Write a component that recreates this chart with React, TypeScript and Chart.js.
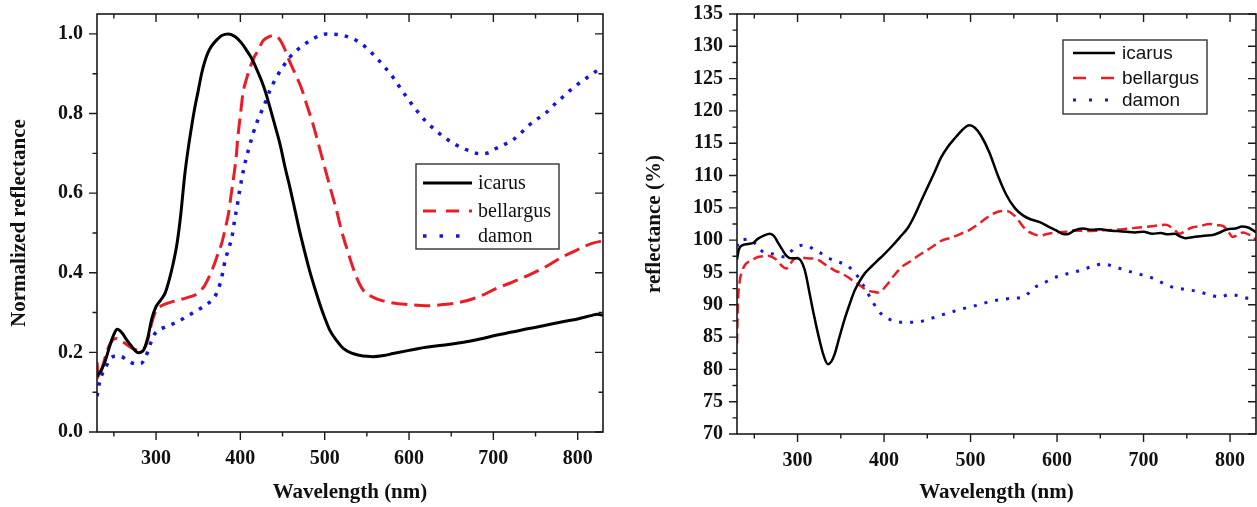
import React, { useEffect, useRef } from "react";
import { Chart, registerables } from "chart.js";

Chart.register(...registerables);

// ---------------- Data: left panel (normalized reflectance) ----------------
const leftIcarusX = [230, 235, 240, 245, 250, 254, 260, 265, 270, 275, 279, 285, 290, 295, 300, 305, 311, 316, 320, 325, 329, 334, 338, 342, 346, 350, 354, 358, 362, 366, 372, 378, 386, 394, 401, 407, 413, 419, 425, 430, 435, 441, 447, 453, 459, 465, 470, 476, 482, 488, 494, 500, 506, 514, 522, 532, 541, 550, 557, 570, 581, 600, 620, 640, 663, 683, 703, 722, 742, 762, 782, 800, 817, 823, 830];
const leftIcarusY = [0.14, 0.155, 0.18, 0.215, 0.245, 0.258, 0.248, 0.232, 0.218, 0.205, 0.199, 0.205, 0.235, 0.285, 0.315, 0.33, 0.35, 0.385, 0.42, 0.475, 0.54, 0.645, 0.71, 0.765, 0.815, 0.857, 0.9, 0.932, 0.955, 0.97, 0.985, 0.996, 1.0, 0.993, 0.978, 0.96, 0.94, 0.913, 0.883, 0.853, 0.816, 0.77, 0.723, 0.665, 0.612, 0.555, 0.507, 0.455, 0.406, 0.363, 0.323, 0.287, 0.256, 0.23, 0.21, 0.198, 0.193, 0.19, 0.189, 0.192, 0.197, 0.205, 0.213, 0.218, 0.225, 0.233, 0.243, 0.251, 0.26, 0.268, 0.277, 0.284, 0.293, 0.296, 0.293];

const leftBellargusX = [230, 232, 236, 240, 244, 248, 253, 258, 265, 272, 280, 286, 290, 295, 300, 307, 316, 326, 336, 346, 352, 358, 363, 368, 373, 378, 382, 386, 389, 392, 395, 397, 400, 403, 407, 411, 416, 421, 427, 434, 441, 447, 452, 458, 465, 472, 479, 486, 493, 500, 507, 514, 520, 527, 534, 541, 548, 557, 568, 581, 600, 620, 640, 663, 683, 703, 722, 742, 762, 782, 800, 817, 830];
const leftBellargusY = [0.175, 0.135, 0.16, 0.19, 0.215, 0.23, 0.235, 0.23, 0.22, 0.21, 0.205, 0.21, 0.23, 0.275, 0.305, 0.318, 0.325, 0.331, 0.337, 0.344, 0.353, 0.369, 0.39, 0.415, 0.445, 0.475, 0.51, 0.55, 0.595, 0.64, 0.69, 0.74, 0.795, 0.85, 0.885, 0.912, 0.94, 0.958, 0.983, 0.993, 0.996, 0.985, 0.965, 0.933, 0.9, 0.866, 0.82, 0.774, 0.72, 0.665, 0.61, 0.557, 0.505, 0.456, 0.41, 0.373, 0.35, 0.339, 0.33, 0.324, 0.32, 0.317, 0.32, 0.327, 0.34, 0.36, 0.376, 0.394, 0.415, 0.44, 0.458, 0.474, 0.48];

const leftDamonX = [230, 233, 237, 242, 246, 252, 258, 264, 270, 276, 282, 288, 293, 298, 303, 310, 318, 326, 336, 346, 356, 366, 371, 376, 379, 382, 386, 390, 393, 396, 399, 402, 406, 410, 415, 420, 425, 430, 435, 442, 450, 458, 466, 474, 484, 493, 502, 512, 522, 531, 541, 551, 561, 571, 581, 590, 600, 610, 620, 632, 644, 655, 665, 675, 685, 695, 703, 713, 722, 732, 742, 752, 762, 772, 782, 791, 801, 811, 821, 830];
const leftDamonY = [0.09, 0.125, 0.15, 0.17, 0.185, 0.19, 0.19, 0.183, 0.175, 0.171, 0.172, 0.19, 0.22, 0.245, 0.256, 0.263, 0.27, 0.277, 0.29, 0.302, 0.315, 0.331, 0.345, 0.373, 0.4, 0.431, 0.46, 0.49, 0.53, 0.565, 0.605, 0.64, 0.68, 0.712, 0.749, 0.78, 0.805, 0.83, 0.858, 0.888, 0.916, 0.94, 0.957, 0.971, 0.985, 0.995, 1.0, 0.999, 0.996, 0.99, 0.979, 0.962, 0.941, 0.917, 0.891, 0.863, 0.833, 0.805, 0.78, 0.757, 0.737, 0.722, 0.712, 0.703, 0.699, 0.702, 0.712, 0.722, 0.732, 0.75, 0.77, 0.786, 0.801, 0.822, 0.841, 0.858, 0.875, 0.89, 0.905, 0.915];

// ---------------- Data: right panel (reflectance %) ----------------
const rightIcarusX = [230, 232, 236, 243, 249, 254, 261, 268, 273, 277, 282, 287, 292, 300, 304, 308, 311, 314, 318, 322, 326, 330, 335, 339, 343, 348, 354, 360, 366, 372, 378, 386, 393, 400, 408, 418, 428, 436, 443, 451, 459, 466, 474, 482, 490, 495, 499, 505, 512, 522, 531, 541, 551, 561, 570, 580, 590, 599, 606, 612, 620, 630, 640, 650, 660, 670, 680, 690, 700, 710, 720, 728, 736, 742, 748, 758, 770, 780, 790, 797, 806, 814, 820, 826, 830];
const rightIcarusY = [97.0, 98.5, 99.2, 99.4, 99.6, 100.2, 100.7, 101.0, 100.6, 99.7, 98.6, 97.6, 97.2, 97.2, 96.8, 95.5, 93.8, 91.7, 89.0, 86.5, 84.2, 82.2, 80.8, 81.2, 82.4, 84.8, 87.6, 90.0, 92.2, 93.7, 94.9, 96.0, 96.9, 97.8, 98.9, 100.4, 102.0, 104.0, 106.1, 108.4, 110.7, 112.8, 114.5, 115.8, 117.0, 117.6, 117.8, 117.4, 116.2, 113.5, 110.2, 107.1, 105.0, 103.8, 103.2, 102.8, 102.1, 101.5, 101.0, 100.9, 101.5, 101.8, 101.6, 101.7, 101.5, 101.4, 101.3, 101.2, 101.3, 101.0, 101.1, 100.9, 101.0, 100.6, 100.3, 100.5, 100.7, 100.8, 101.3, 101.7, 101.8, 102.1, 102.0, 101.6, 101.2];

const rightBellargusX = [230, 231, 233, 236, 240, 246, 254, 260, 266, 272, 277, 282, 287, 291, 296, 303, 311, 320, 326, 331, 337, 343, 350, 358, 364, 370, 376, 382, 388, 393, 398, 404, 412, 420, 430, 443, 455, 466, 478, 489, 499, 509, 518, 528, 536, 542, 548, 553, 559, 565, 572, 580, 590, 599, 610, 620, 635, 650, 665, 676, 690, 700, 712, 726, 734, 742, 750, 757, 766, 776, 785, 792, 798, 803, 809, 815, 821, 826, 830];
const rightBellargusY = [84, 90, 93.5, 95.2, 96.3, 96.8, 97.4, 97.5, 97.6, 97.3, 96.8, 96.0, 95.6, 96.2, 97.1, 97.3, 97.2, 97.1, 96.8, 96.3, 95.8, 95.3, 94.9, 94.3, 93.7, 93.2, 92.6, 92.2, 92.0, 91.9, 92.3, 93.2, 94.6, 95.8, 96.7, 97.9, 98.9, 99.9, 100.4, 101.0, 101.6, 102.5, 103.4, 104.2, 104.5, 104.5, 104.1, 103.5, 102.4, 101.5, 101.0, 100.7, 101.0, 101.2, 101.3, 101.5, 101.4, 101.5, 101.6, 101.7, 101.9, 102.0, 102.2, 102.4, 101.8, 101.0, 101.6, 102.0, 102.2, 102.5, 102.3, 102.2, 101.3, 100.5, 100.8, 101.2, 100.9, 100.7, 100.0];

const rightDamonX = [230, 233, 238, 243, 248, 252, 257, 263, 270, 278, 285, 290, 295, 300, 305, 310, 316, 322, 328, 335, 343, 350, 357, 364, 370, 376, 382, 388, 394, 400, 407, 415, 424, 437, 452, 466, 481, 497, 510, 522, 535, 548, 561, 567, 572, 585, 599, 612, 626, 640, 653, 666, 680, 693, 707, 720, 734, 747, 761, 775, 788, 800, 812, 822, 830];
const rightDamonY = [99.0, 100.0, 100.1, 100.2, 99.9, 99.3, 98.5, 98.0, 97.9, 97.6, 97.4, 97.9, 98.6, 99.0, 99.2, 99.2, 98.8, 98.3, 97.9, 97.3, 96.8, 96.5, 96.1, 95.3, 94.3, 93.0, 91.6, 90.2, 89.0, 88.2, 87.7, 87.4, 87.3, 87.3, 87.8, 88.4, 89.0, 89.6, 90.0, 90.5, 90.8, 91.0, 91.2, 91.8, 92.5, 93.4, 94.3, 94.8, 95.3, 95.9, 96.3, 95.9, 95.3, 94.8, 94.3, 93.5, 92.7, 92.4, 92.1, 91.6, 91.2, 91.6, 91.3, 91.0, 91.2];

const seriesLabels = ["icarus", "bellargus", "damon"];
const xTickValues = [300, 400, 500, 600, 700, 800];
const leftYTickValues = [0, 0.2, 0.4, 0.6, 0.8, 1.0];
const rightYTickValues = [70, 75, 80, 85, 90, 95, 100, 105, 110, 115, 120, 125, 130, 135];

const BLACK = "#000000";
const RED = "#ec1c24";
const BLUE = "#1414e6";
const SERIF = "'Liberation Serif', 'Times New Roman', serif";
const SANS = "'Liberation Sans', Arial, sans-serif";

const pts = (xs: number[], ys: number[]) => xs.map((x, i) => ({ x, y: ys[i] }));

// Frame + inward/outward ticks, drawn from the scales
const framePlugin = {
  id: "frameTicks",
  afterDraw(chart: any, _args: any, opts: any) {
    const { ctx, chartArea } = chart;
    const { left, right, top, bottom } = chartArea;
    const xs = chart.scales.x;
    const ys = chart.scales.y;
    ctx.save();
    ctx.strokeStyle = "#1a1a1a";
    ctx.lineWidth = 1.6;
    ctx.strokeRect(left, top, right - left, bottom - top);
    const maj = opts.major;
    const min = opts.minor;
    ctx.lineWidth = 1.4;
    ctx.beginPath();
    for (let v = xs.min; v <= xs.max + 1e-9; v += 1) {
      const isMajor = Math.abs(v / opts.xMajorStep - Math.round(v / opts.xMajorStep)) < 1e-6;
      const isMinor = Math.abs(v / opts.xMinorStep - Math.round(v / opts.xMinorStep)) < 1e-6;
      if (!isMajor && !isMinor) continue;
      const px = xs.getPixelForValue(v);
      if (px <= left + 1 || px >= right - 1) continue;
      const len = isMajor ? maj : min;
      ctx.moveTo(px, bottom);
      ctx.lineTo(px, bottom + len);
      ctx.moveTo(px, top);
      ctx.lineTo(px, top + len);
    }
    const yStart = Math.ceil(ys.min / opts.yMinorStep - 1e-9) * opts.yMinorStep;
    for (let v = yStart; v <= ys.max + 1e-9; v += opts.yMinorStep) {
      const isMajor = Math.abs(v / opts.yMajorStep - Math.round(v / opts.yMajorStep)) < 1e-6;
      const py = ys.getPixelForValue(v);
      const len = isMajor ? maj : min;
      ctx.moveTo(left, py);
      ctx.lineTo(left - len, py);
      ctx.moveTo(right, py);
      ctx.lineTo(right - len, py);
    }
    ctx.stroke();
    ctx.restore();
  },
};

const legendPlugin = {
  id: "boxLegend",
  afterDraw(chart: any, _args: any, opts: any) {
    const { ctx } = chart;
    const dy = opts.dy;
    ctx.save();
    ctx.fillStyle = "#ffffff";
    ctx.fillRect(opts.x, opts.y + dy, opts.w, opts.h);
    ctx.strokeStyle = "#333333";
    ctx.lineWidth = 1.4;
    ctx.strokeRect(opts.x, opts.y + dy, opts.w, opts.h);
    ctx.font = opts.font;
    ctx.textBaseline = "middle";
    ctx.textAlign = "left";
    chart.data.datasets.forEach((ds: any, i: number) => {
      const ry = opts.rows[i] + dy;
      ctx.beginPath();
      ctx.strokeStyle = ds.borderColor;
      ctx.lineWidth = ds.borderWidth;
      ctx.setLineDash(opts.dashes[i]);
      ctx.moveTo(opts.lineX0, ry);
      ctx.lineTo(opts.lineX1, ry);
      ctx.stroke();
      ctx.setLineDash([]);
      ctx.fillStyle = "#111111";
      ctx.fillText(ds.label, opts.textX, ry + 1);
    });
    ctx.restore();
  },
};

type PanelCfg = {
  width: number;
  height: number;
  plotLeft: number;
  plotRight: number;
  padTop: number;
  plotBottom: number;
  yMin: number;
  yMax: number;
  yStep: number;
  yTicks: number[];
  yMinorStep: number;
  yTitle: string;
  yTitlePad: number;
  yFmt: (v: number) => string;
  data: { x: number; y: number }[][];
  widths: number[];
  dashes: number[][];
  legend: any;
};

function makeChart(canvas: HTMLCanvasElement, cfg: PanelCfg) {
  const colors = [BLACK, RED, BLUE];
  return new Chart(canvas, {
    type: "line",
    data: {
      datasets: cfg.data.map((d, i) => ({
        label: seriesLabels[i],
        data: d,
        borderColor: colors[i],
        backgroundColor: colors[i],
        borderWidth: cfg.widths[i],
        borderDash: cfg.dashes[i],
        borderCapStyle: "butt" as const,
        pointRadius: 0,
        fill: false,
        cubicInterpolationMode: "monotone" as const,
      })),
    },
    options: {
      responsive: false,
      animation: false,
      devicePixelRatio: 1,
      layout: {
        padding: { left: 0, top: cfg.padTop, right: cfg.width - cfg.plotRight, bottom: 0 },
      },
      plugins: {
        legend: { display: false },
        tooltip: { enabled: false },
        frameTicks: { major: 8, minor: 4.5, xMajorStep: 100, xMinorStep: 50, yMajorStep: cfg.yStep, yMinorStep: cfg.yMinorStep },
        boxLegend: cfg.legend,
      } as any,
      scales: {
        x: {
          type: "linear",
          min: 230,
          max: 830,
          grid: { display: false },
          border: { display: false },
          afterBuildTicks: (scale: any) => {
            scale.ticks = xTickValues.map((v) => ({ value: v }));
          },
          afterFit: (scale: any) => {
            scale.height = cfg.height - cfg.plotBottom;
          },
          ticks: {
            padding: 7,
            color: "#111",
            font: { family: SERIF, size: 20, weight: "bold" },
            callback: (v: any) => String(v),
          },
          title: {
            display: true,
            text: "Wavelength (nm)",
            color: "#111",
            font: { family: SERIF, size: 21, weight: "bold" },
            padding: { top: 0, bottom: 2 },
          },
        },
        y: {
          type: "linear",
          min: cfg.yMin,
          max: cfg.yMax,
          grid: { display: false },
          border: { display: false },
          afterBuildTicks: (scale: any) => {
            scale.ticks = cfg.yTicks.map((v) => ({ value: v }));
          },
          afterFit: (scale: any) => {
            scale.width = cfg.plotLeft;
          },
          ticks: {
            padding: 6,
            color: "#111",
            font: { family: SERIF, size: 20, weight: "bold" },
            callback: (v: any) => cfg.yFmt(Number(v)),
          },
          title: {
            display: true,
            text: cfg.yTitle,
            color: "#111",
            font: { family: SERIF, size: 21, weight: "bold" },
            padding: { top: cfg.yTitlePad, bottom: 0 },
          },
        },
      },
    },
    plugins: [framePlugin, legendPlugin],
  } as any);
}

const LEFT_W = 630;
const RIGHT_W = 627;
const H = 507;
const SHIFT = 4; // canvases are raised by this amount to line up the plot tops
const CH = H + SHIFT;

export default function App() {
  const leftRef = useRef<HTMLCanvasElement>(null);
  const rightRef = useRef<HTMLCanvasElement>(null);

  useEffect(() => {
    const c1 = makeChart(leftRef.current!, {
      width: LEFT_W,
      height: CH,
      plotLeft: 97,
      plotRight: 603,
      padTop: 2,
      plotBottom: 432 + SHIFT,
      yMin: 0,
      yMax: 1.05,
      yStep: 0.2,
      yTicks: leftYTickValues,
      yMinorStep: 0.1,
      yTitle: "Normalized reflectance",
      yTitlePad: 7,
      yFmt: (v) => v.toFixed(1),
      data: [pts(leftIcarusX, leftIcarusY), pts(leftBellargusX, leftBellargusY), pts(leftDamonX, leftDamonY)],
      widths: [3, 3, 3.5],
      dashes: [[], [16, 7], [3.5, 7]],
      legend: {
        dy: SHIFT,
        x: 416, y: 164, w: 143, h: 85,
        rows: [183, 211, 236],
        lineX0: 423, lineX1: 472, textX: 478,
        font: `20px ${SERIF}`,
        dashes: [[], [13, 10], [3.5, 13]],
      },
    });
    const c2 = makeChart(rightRef.current!, {
      width: RIGHT_W,
      height: CH,
      plotLeft: 107,
      plotRight: 626,
      padTop: 1,
      plotBottom: 434 + SHIFT,
      yMin: 70,
      yMax: 135,
      yStep: 5,
      yTicks: rightYTickValues,
      yMinorStep: 2.5,
      yTitle: "reflectance (%)",
      yTitlePad: 12,
      yFmt: (v) => String(Math.round(v)),
      data: [pts(rightIcarusX, rightIcarusY), pts(rightBellargusX, rightBellargusY), pts(rightDamonX, rightDamonY)],
      widths: [2.5, 2.5, 3],
      dashes: [[], [10, 5], [3, 8]],
      legend: {
        dy: SHIFT,
        x: 433, y: 40, w: 144, h: 74,
        rows: [53, 78, 100],
        lineX0: 443, lineX1: 485, textX: 492,
        font: `19px ${SANS}`,
        dashes: [[], [13, 15], [3, 13]],
      },
    });
    return () => {
      c1.destroy();
      c2.destroy();
    };
  }, []);

  return (
    <div style={{ position: "absolute", left: 0, top: 0, width: 1257, height: H, background: "#fff", overflow: "hidden" }}>
      <canvas ref={leftRef} width={LEFT_W} height={CH} style={{ position: "absolute", left: 0, top: -SHIFT, width: LEFT_W, height: CH }} />
      <canvas ref={rightRef} width={RIGHT_W} height={CH} style={{ position: "absolute", left: LEFT_W, top: -SHIFT, width: RIGHT_W, height: CH }} />
    </div>
  );
}
